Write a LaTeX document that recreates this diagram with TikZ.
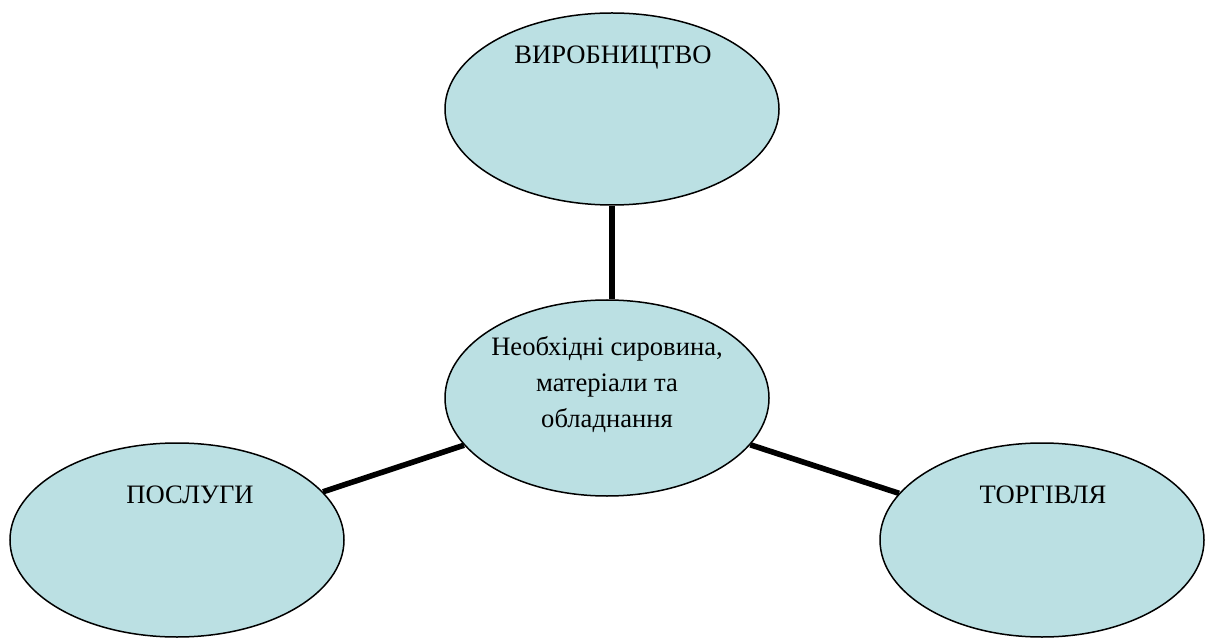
\documentclass[tikz,border=0pt]{standalone}
\usepackage{fontspec}
\setmainfont{Liberation Serif}
\usetikzlibrary{shapes.geometric}
\definecolor{fillblue}{HTML}{BBE0E3}
\tikzset{
  blob/.style={ellipse, draw=black, line width=0.75pt, fill=fillblue, inner sep=0pt},
  link/.style={line width=2.8pt, draw=black},
  lbl/.style={font=\fontsize{13.3}{18}\selectfont, align=center, inner sep=0pt}
}
\begin{document}
\begin{tikzpicture}[x=0.5pt,y=-0.5pt]
\useasboundingbox (0,0) rectangle (1214,641);
\node[blob, minimum width=167pt, minimum height=96pt] (T) at (612,109) {};
\node[blob, minimum width=162pt, minimum height=98pt] (C) at (607,398) {};
\node[blob, minimum width=167pt, minimum height=97pt] (L) at (177,540) {};
\node[blob, minimum width=162pt, minimum height=97pt] (R) at (1042,540) {};
\draw[link] (T.south) -- (T.south |- C.north);
\draw[link] (L) -- (C);
\draw[link] (R) -- (C);
\node[lbl] (tT) at (613,58) {ВИРОБНИЦТВО};
\node[lbl] (tC) at (607,385) {Необхідні сировина,\\матеріали та\\обладнання};
\node[lbl] (tL) at (190,495) {ПОСЛУГИ};
\node[lbl] (tR) at (1043,495) {ТОРГІВЛЯ};
\end{tikzpicture}
\end{document}
